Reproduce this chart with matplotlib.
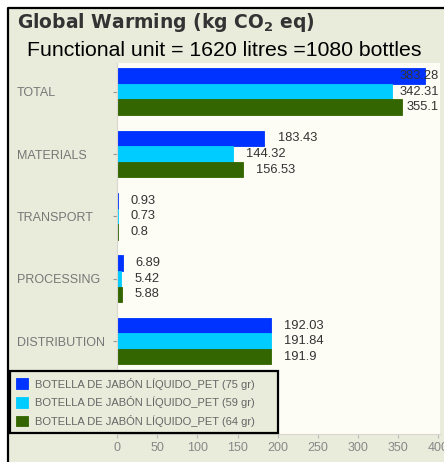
import matplotlib.pyplot as plt
from matplotlib.patches import Rectangle
from matplotlib.lines import Line2D

# data
categories = ["TOTAL", "MATERIALS", "TRANSPORT", "PROCESSING", "DISTRIBUTION"]
series_names = [
    "BOTELLA DE JABÓN LÍQUIDO_PET (75 gr)",
    "BOTELLA DE JABÓN LÍQUIDO_PET (59 gr)",
    "BOTELLA DE JABÓN LÍQUIDO_PET (64 gr)",
]
pet_75 = [383.28, 183.43, 0.93, 6.89, 192.03]
pet_59 = [342.31, 144.32, 0.73, 5.42, 191.84]
pet_64 = [355.1, 156.53, 0.8, 5.88, 191.9]
value_labels = [
    ["383.28", "183.43", "0.93", "6.89", "192.03"],
    ["342.31", "144.32", "0.73", "5.42", "191.84"],
    ["355.1", "156.53", "0.8", "5.88", "191.9"],
]
xticks = [0, 50, 100, 150, 200, 250, 300, 350, 400]

colors = ["#0033ff", "#00ccff", "#336600"]
panel_bg = "#e9ebdb"
plot_bg = "#fdfcf5"
W, H = 444, 462

fig = plt.figure(figsize=(W / 100, H / 100), dpi=100)
fig.patch.set_facecolor("white")

# outer panel: beige fill, black frame only on left and top
fig.patches.append(Rectangle((7 / W, 0), 1, (H - 8) / H,
                             transform=fig.transFigure, facecolor=panel_bg,
                             edgecolor="none", zorder=-10))
fig.lines.append(Line2D([7.5 / W, 7.5 / W, 1], [0, 1 - 8 / H, 1 - 8 / H],
                        transform=fig.transFigure, color="black",
                        linewidth=1.6))

ax = fig.add_axes([117 / W, 28 / H, (440 - 117) / W, (434 - 63) / H])
ax.set_facecolor(plot_bg)

bh = 0.25
ypos = list(range(len(categories)))
all_series = [pet_75, pet_59, pet_64]
for i, vals in enumerate(all_series):
    offs = (i - 1) * bh
    ys = [y + offs for y in ypos]
    ax.barh(ys, vals, height=bh, color=colors[i], label=series_names[i],
            edgecolor=colors[i], linewidth=0.6)
    for y, v, txt in zip(ys, vals, value_labels[i]):
        if v > 300:
            # long bars: label pulled back inside the plot, as in the original
            ax.annotate(txt, xy=(1.0, y), xycoords=("axes fraction", "data"),
                        xytext=(-1, 0), textcoords="offset points",
                        ha="right", va="center", fontsize=9.3,
                        color="#333333", family="Liberation Sans")
        else:
            ax.annotate(txt, xy=(v, y), xytext=(9.5, 0),
                        textcoords="offset points", ha="left", va="center",
                        fontsize=9.3, color="#333333",
                        family="Liberation Sans")

ax.set_xlim(0, 402)
ax.set_ylim(5.49, -0.46)
ax.set_yticks(ypos)
ax.set_yticklabels(categories, ha="left", family="Liberation Sans",
                   fontsize=9, color="#777777")
ax.tick_params(axis="y", length=3, color="#999999", pad=69)
ax.set_xticks(xticks)
ax.set_xticklabels([str(t) for t in xticks], family="Liberation Sans",
                   fontsize=9, color="#888888")
ax.tick_params(axis="x", length=3, color="#bbbbbb", pad=3)
for s in ["top", "right"]:
    ax.spines[s].set_visible(False)
for s in ["left", "bottom"]:
    ax.spines[s].set_color("#d8d8d0")

leg = ax.legend(loc="lower left", bbox_to_anchor=(10 / W, 29 / H, 268 / W, 62 / H),
                bbox_transform=fig.transFigure, mode="expand",
                frameon=True, fancybox=False,
                prop={"family": "Liberation Sans", "size": 8},
                handlelength=1.1, handleheight=1.1, handletextpad=0.6,
                labelspacing=0.6, borderpad=0.55, borderaxespad=0)
leg.get_frame().set_facecolor(panel_bg)
leg.get_frame().set_edgecolor("black")
leg.get_frame().set_linewidth(1.6)
leg.get_frame().set_alpha(1)
for t in leg.get_texts():
    t.set_color("#666666")

fig.text(17 / W, 1 - 22 / H, "Global Warming (kg CO$_\\mathregular{2}$ eq)",
         fontsize=13.5, fontweight="bold", color="#333333", va="center",
         family="DejaVu Sans")
fig.text(27 / W, 1 - 50 / H, "Functional unit = 1620 litres =1080 bottles",
         fontsize=15.3, color="black", va="center", family="Liberation Sans")

fig.savefig("out.png", dpi=100)
